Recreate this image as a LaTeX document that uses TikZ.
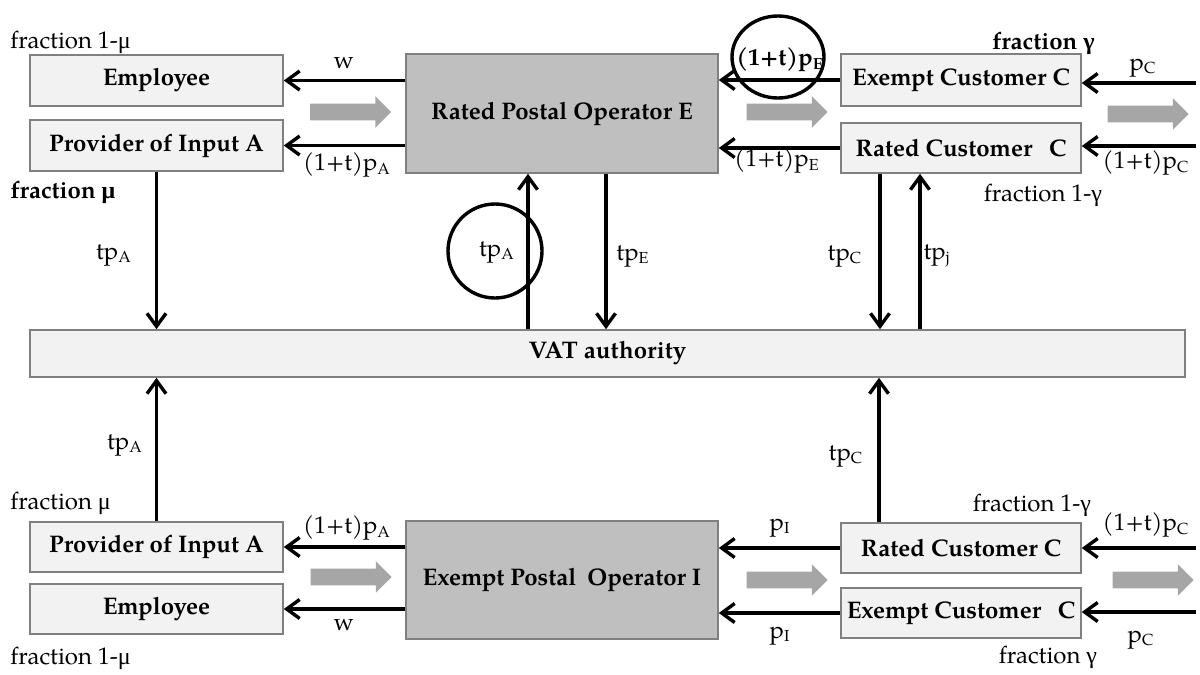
\documentclass[tikz,border=0pt]{standalone}
\usepackage{fontspec}
\setmainfont{TeX Gyre Pagella}
\newfontfamily\grk{Liberation Serif}
\usetikzlibrary{arrows.meta,shapes.arrows,shapes.geometric}
\definecolor{boxfill}{HTML}{F2F2F2}
\definecolor{boxline}{HTML}{808080}
\definecolor{opfill}{HTML}{BFBFBF}
\definecolor{garrow}{HTML}{A6A6A6}
\newcommand\mymu{{\grk μ}}
\newcommand\mygam{{\grk γ}}
\newcommand\sbs[1]{\textsubscript{#1}}
\begin{document}
\begin{tikzpicture}[x=0.5pt,y=-0.5pt,
  font=\fontsize{12}{14}\selectfont,
  box/.style={draw=boxline, line width=0.8pt, fill=boxfill, font=\fontsize{12}{14}\selectfont\bfseries,
    inner sep=0pt, minimum width=126.5pt, minimum height=25.5pt},
  custbox/.style={box, minimum width=120pt},
  opbox/.style={box, fill=opfill, minimum width=156pt, minimum height=59.5pt},
  conn/.style={line width=1.7pt, -{Straight Barb[length=6.5pt,width=9.5pt,line width=1.7pt]}},
  lbl/.style={inner sep=0pt},
  boldlbl/.style={lbl, font=\fontsize{12}{14}\selectfont\bfseries},
  flow/.style={single arrow, fill=garrow, draw=none, inner sep=4pt, minimum height=40.5pt,
    minimum width=15.5pt, single arrow head extend=3.75pt},
  ring/.style={draw, line width=1.7pt, inner sep=0pt}]
\useasboundingbox (0,0) rectangle (1200,675);

% ---------- boxes ----------
\node[box] (emp1) at (156.5,80.5) {Employee};
\node[box] (prov1) at (156.5,145.5) {Provider of Input A};
\node[opbox] (E) at (562,113.5) {Rated Postal Operator E};
\node[custbox, minimum height=26pt] (exc1) at (961,80) {Exempt Customer C};
\node[custbox, minimum height=25pt] (rc1) at (961,148) {Rated Customer\hspace{0.45em} C};
\node[box, minimum width=577.5pt, minimum height=23.5pt] (vat) at (607.5,353.5) {VAT authority};
\node[box, minimum height=25pt] (prov2) at (156.5,547) {Provider of Input A};
\node[box, minimum height=25pt] (emp2) at (156.5,609) {Employee};
\node[opbox, minimum height=59pt] (I) at (562,580) {Exempt Postal\hspace{0.2em} Operator I};
\node[custbox, minimum height=25pt] (rc2) at (961,548) {Rated Customer C};
\node[custbox, minimum height=25pt] (exc2) at (961,613) {Exempt Customer\hspace{0.45em} C};

% ---------- flow arrows ----------
\node[flow] (f1) at (346.5,112) {};
\node[flow] (f2) at (783,112) {};
\node[flow] (f3) at (1144,114) {};
\node[flow] (f4) at (347,577) {};
\node[flow] (f5) at (783,580) {};
\node[flow] (f6) at (1149,580) {};

% ---------- free ends ----------
\coordinate (in1) at (1196,83);
\coordinate (in2) at (1196,146);
\coordinate (in3) at (1196,548);
\coordinate (in4) at (1196,612);
\coordinate (eu) at ([xshift=-17pt]E.south);
\coordinate (ed) at ([xshift=22pt]E.south);
\coordinate (rcd) at ([xshift=-40.5pt]rc1.south);
\coordinate (rcu) at ([xshift=-20.5pt]rc1.south);
\coordinate (rcb) at ([xshift=-41pt]rc2.north);

% ---------- connectors top ----------
\draw[conn] (E.west |- emp1.east) -- (emp1.east);
\draw[conn] (E.west |- prov1.east) -- (prov1.east);
\draw[conn] (exc1.west) -- (E.east |- exc1.west);
\draw[conn] (rc1.west) -- (E.east |- rc1.west);
\draw[conn] (in1) -- (exc1.east |- in1);
\draw[conn] (in2) -- (rc1.east |- in2);
\draw[conn] (prov1.south) -- (prov1.south |- vat.north);
\draw[conn] (eu |- vat.north) -- (eu);
\draw[conn] (ed) -- (ed |- vat.north);
\draw[conn] (rcd) -- (rcd |- vat.north);
\draw[conn] (rcu |- vat.north) -- (rcu);

% ---------- connectors bottom ----------
\draw[conn] (prov2.north) -- (prov2.north |- vat.south);
\draw[conn] (rcb) -- (rcb |- vat.south);
\draw[conn] (I.west |- prov2.east) -- (prov2.east);
\draw[conn] (I.west |- emp2.east) -- (emp2.east);
\draw[conn] (rc2.west) -- (I.east |- rc2.west);
\draw[conn] (exc2.west) -- (I.east |- exc2.west);
\draw[conn] (in3) -- (rc2.east |- in3);
\draw[conn] (in4) -- (exc2.east |- in4);

% ---------- highlight rings ----------
\node[ring, ellipse, minimum width=46pt, minimum height=41pt] (r1) at (778,57) {};
\node[ring, circle, minimum size=47pt] (r2) at (495,251) {};

% ---------- labels top ----------
\node[lbl, anchor=west] (l1) at (10,42) {fraction 1-\mymu};
\node[boldlbl, anchor=west] (l2) at (10,192) {fraction \mymu};
\node[lbl] (l3) at (344,63) {w};
\node[lbl] (l4) at (347,165) {(1+t)p\sbs{A}};
\node[boldlbl] (l5) at (780,60) {(1+t)p\sbs{E}};
\node[lbl] (l6) at (777,161) {(1+t)p\sbs{E}};
\node[boldlbl, anchor=east] (l7) at (1095,43) {fraction \mygam};
\node[lbl] (l8) at (1143,68) {p\sbs{C}};
\node[lbl] (l9) at (1146,163) {(1+t)p\sbs{C}};
\node[lbl] (l10) at (1043,195) {fraction 1-\mygam};
\node[lbl] (l11) at (114,255) {tp\sbs{A}};
\node[lbl] (l12) at (497,252) {tp\sbs{A}};
\node[lbl] (l13) at (633,256) {tp\sbs{E}};
\node[lbl] (l14) at (845,256) {tp\sbs{C}};
\node[lbl] (l15) at (937,256) {tp\sbs{j}};

% ---------- labels bottom ----------
\node[lbl] (b1) at (125,445) {tp\sbs{A}};
\node[lbl, anchor=west] (b2) at (10,503) {fraction \mymu};
\node[lbl] (b3) at (347,528) {(1+t)p\sbs{A}};
\node[lbl] (b4) at (344,625) {w};
\node[lbl, anchor=west] (b5) at (10,658) {fraction 1-\mymu};
\node[lbl] (b6) at (780,528) {p\sbs{I}};
\node[lbl] (b7) at (780,636) {p\sbs{I}};
\node[lbl] (b8) at (846,456) {tp\sbs{C}};
\node[lbl] (b9) at (1032,505) {fraction 1-\mygam};
\node[lbl] (b10) at (1146,525) {(1+t)p\sbs{C}};
\node[lbl] (b11) at (1141,640) {p\sbs{C}};
\node[lbl] (b12) at (1048,657) {fraction \mygam};
\end{tikzpicture}
\end{document}
